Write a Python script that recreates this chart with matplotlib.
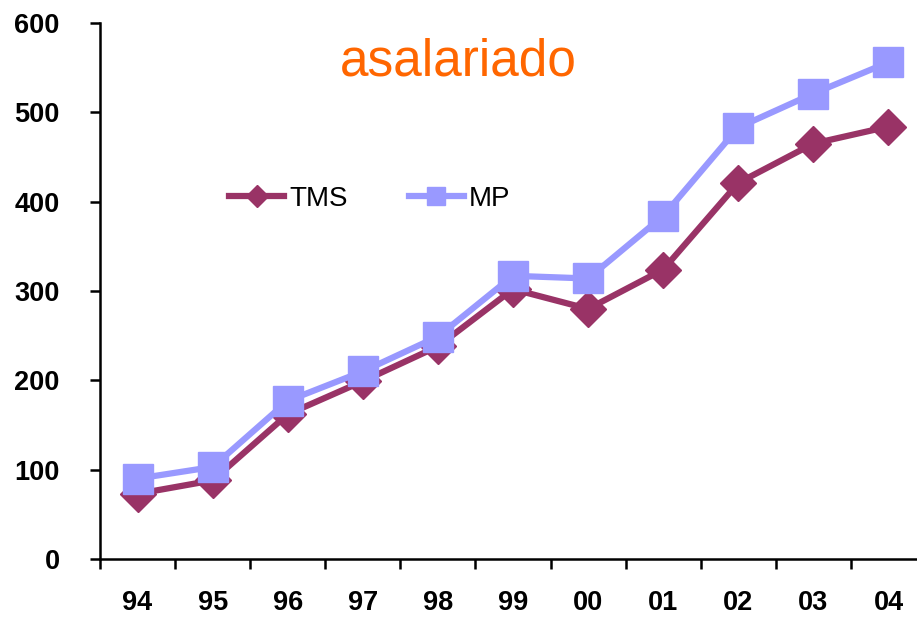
import matplotlib
matplotlib.use("Agg")
import matplotlib.pyplot as plt
from matplotlib.lines import Line2D

years = ["94", "95", "96", "97", "98", "99", "00", "01", "02", "03", "04"]
tms = [73, 88, 162, 199, 238, 302, 280, 324, 421, 465, 484]
mp = [90, 103, 177, 210, 249, 317, 314, 384, 483, 521, 556]
yticks = [0, 100, 200, 300, 400, 500, 600]

TMS_COLOR = "#993366"
MP_COLOR = "#9999FF"

plt.rcParams["font.family"] = ["Liberation Sans", "DejaVu Sans"]

W, H = 917, 618
fig = plt.figure(figsize=(W / 100, H / 100), dpi=100)
ax = fig.add_axes([100 / W, (H - 559) / H, 826 / W, 536 / H])

x = list(range(len(years)))
ax.plot(x, tms, color=TMS_COLOR, lw=4.5, marker="D", ms=18, mec=TMS_COLOR, mfc=TMS_COLOR, zorder=3, clip_on=False)
ax.plot(x, mp, color=MP_COLOR, lw=4.5, marker="s", ms=21, mec=MP_COLOR, mfc=MP_COLOR, zorder=4, clip_on=False)

ax.set_xlim(-0.5, len(years) - 0.5)
ax.set_ylim(0, 600)
ax.set_yticks(yticks)
ax.set_yticklabels([str(v) for v in yticks])
ax.set_xticks([i + 0.5 for i in range(-1, len(years))], minor=False)
ax.set_xticklabels([])
ax.set_xticks(x, minor=True)
ax.set_xticklabels(years, minor=True)

for s in ["top", "right"]:
    ax.spines[s].set_visible(False)
for s in ["left", "bottom"]:
    ax.spines[s].set_linewidth(1.8)

ax.tick_params(axis="y", which="major", direction="out", length=7, width=1.8, pad=22, labelsize=19.5)
ax.tick_params(axis="x", which="major", direction="out", length=7, width=1.8)
ax.tick_params(axis="x", which="minor", length=0, pad=22, labelsize=19.5)
for lab in ax.get_yticklabels() + ax.get_xticklabels(minor=True):
    lab.set_fontweight("bold")

handles = [
    Line2D([], [], color=TMS_COLOR, lw=4.5, marker="D", ms=11.5, mec=TMS_COLOR),
    Line2D([], [], color=MP_COLOR, lw=4.5, marker="s", ms=12.5, mec=MP_COLOR),
]
fig.legend(handles, ["TMS", "MP"], ncol=2, frameon=False, loc="center left",
           bbox_to_anchor=(229 / W, 1 - 199 / H), borderpad=0, borderaxespad=0,
           handlelength=1.98, handletextpad=0.18, columnspacing=2.2, fontsize=20)

fig.text(458 / W, 1 - 75 / H, "asalariado", ha="center", va="baseline", fontsize=37, color="#FF6600")

fig.savefig("out.png", dpi=100)
